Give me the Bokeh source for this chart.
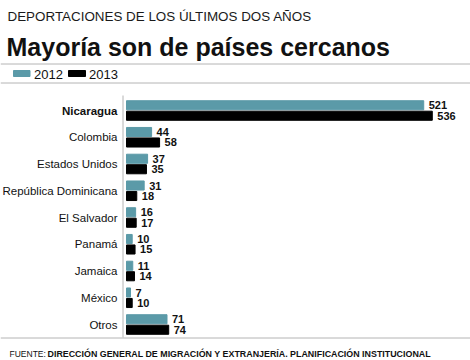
from bokeh.plotting import figure
from bokeh.models import Range1d, Label, ColumnDataSource, Span
from bokeh.embed import file_html
from bokeh.resources import INLINE
from bokeh.core.properties import value

# ---- data ----
countries = ["Nicaragua", "Colombia", "Estados Unidos", "República Dominicana",
             "El Salvador", "Panamá", "Jamaica", "México", "Otros"]
v2012 = [521, 44, 37, 31, 16, 10, 11, 7, 71]
v2013 = [536, 58, 35, 18, 17, 15, 14, 10, 74]
years = ["2012", "2013"]
subtitle = "DEPORTACIONES DE LOS ÚLTIMOS DOS AÑOS"
title = "Mayoría son de países cercanos"
source_label = "FUENTE:"
source_text = "DIRECCIÓN GENERAL DE MIGRACIÓN Y EXTRANJERÍA. PLANIFICACIÓN INSTITUCIONAL"
highlight = "Nicaragua"

# ---- layout helpers (page pixel -> data coords) ----
W, H, OFF = 470, 360, 0
X0, KX = 126.0, 0.5705   # page x of value 0, px per unit
Y0, KY = 110.0, 26.75    # page y of first group centre, px per group


def dx(px):
    return (px - X0) / KX


def dy(py):
    return (py - Y0) / KY


TEAL = "#5b9aa8"
BLACK = "#000000"
GRAY = "#b4b4b4"
FONT = "Liberation Sans"

p = figure(width=W, height=H, output_backend="svg", toolbar_location=None,
           x_range=Range1d(dx(OFF), dx(OFF + W)),
           y_range=Range1d(dy(OFF + H), dy(OFF)),
           x_axis_type=None, y_axis_type=None,
           min_border=0, outline_line_color=None, background_fill_color="white")
p.grid.visible = False

idx = list(range(len(countries)))
src = ColumnDataSource(dict(
    country=countries,
    y=idx,
    y1=[i - 0.196 for i in idx],
    y2=[i + 0.196 for i in idx],
    v1=v2012, v2=v2013,
    t1=[str(v) for v in v2012], t2=[str(v) for v in v2013],
    style=["bold" if c == highlight else "normal" for c in countries],
))

p.hbar(y="y1", left=0, right="v1", height=0.34, color=TEAL, source=src)
p.hbar(y="y2", left=0, right="v2", height=0.34, color=BLACK, source=src)

p.text(x="v1", y="y1", text="t1", x_offset=5, source=src, text_font=value(FONT),
       text_font_style="bold", text_font_size="11px", text_baseline="middle",
       text_color="#111111")
p.text(x="v2", y="y2", text="t2", x_offset=5, source=src, text_font=value(FONT),
       text_font_style="bold", text_font_size="11px", text_baseline="middle",
       text_color="#111111")

p.text(x=0, y="y", text="country", x_offset=-9, source=src, text_font=value(FONT),
       text_font_style="style", text_font_size="11.5px", text_align="right",
       text_baseline="middle", text_color="#111111")

# rules
for py in (63.5, 82.5, 337.5):
    p.add_layout(Span(location=dy(py), dimension="width", line_color=GRAY, line_width=1))
p.segment(x0=dx(122.5), x1=dx(122.5), y0=dy(95), y1=dy(337), line_color=GRAY, line_width=1)

# titles
p.add_layout(Label(x=dx(7), y=dy(16), text=subtitle, text_font=FONT,
                   text_font_size="13.4px", text_color="#1a1a1a", text_baseline="alphabetic"))
p.add_layout(Label(x=dx(6), y=dy(46), text=title, text_font=FONT, text_font_style="bold",
                   text_font_size="25px", text_color="#111111", text_baseline="alphabetic"))

# legend
leg_src = ColumnDataSource(dict(
    left=[dx(13), dx(68)], right=[dx(29.5), dx(85)],
    top=[dy(70), dy(70)], bottom=[dy(76), dy(76)],
    color=[TEAL, BLACK], tx=[dx(33.5), dx(88.5)], label=years))
p.quad(left="left", right="right", top="top", bottom="bottom", color="color", source=leg_src)
p.text(x="tx", y=dy(73.5), text="label", source=leg_src, text_font=value(FONT),
       text_font_size="13px", text_baseline="middle", text_color="#111111")

# footer
p.add_layout(Label(x=dx(9), y=dy(353), text=source_label, text_font=FONT,
                   text_font_size="8.5px", text_color="#111111", text_baseline="alphabetic"))
p.add_layout(Label(x=dx(47), y=dy(353), text=source_text, text_font=FONT,
                   text_font_style="bold", text_font_size="8.9px", text_color="#111111",
                   text_baseline="alphabetic"))

open("out.html", "w").write(file_html(p, INLINE))
